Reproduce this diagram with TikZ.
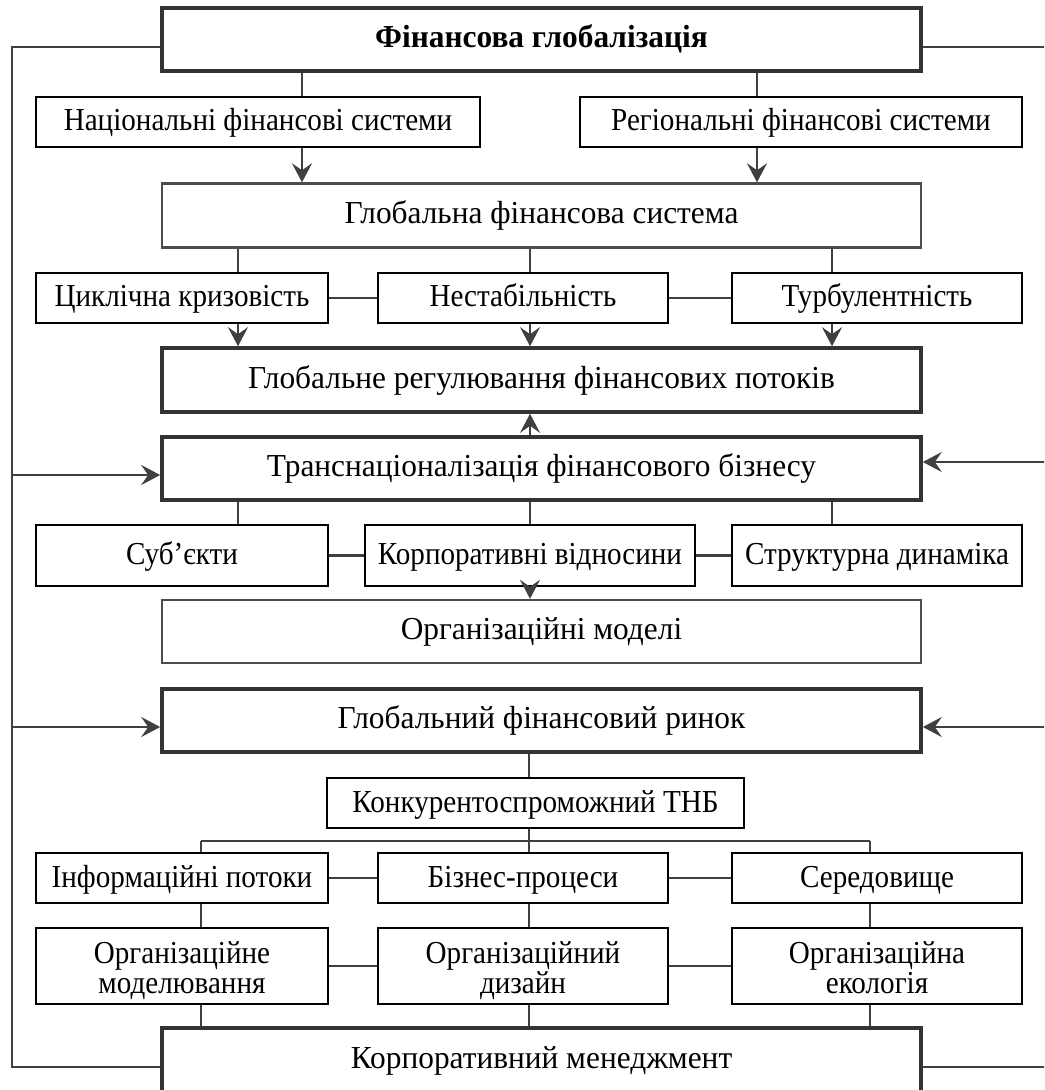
\documentclass[tikz,border=0pt]{standalone}
\usepackage{fontspec}
\setmainfont{Liberation Serif}[FakeStretch=0.98]
\newfontfamily\narrowfont{Liberation Serif}[FakeStretch=0.91]
\usetikzlibrary{arrows.meta}
\newcommand\tallstrut{\rule{0pt}{16pt}}
\newcommand\lowstrut{\rule[-4pt]{0pt}{4pt}}
\begin{document}
\begin{tikzpicture}[x=0.5pt,y=-0.5pt,font=\fontsize{16}{15}\selectfont]
  \tikzstyle{box}=[draw,inner sep=0pt,align=center]
  \tikzstyle{narrow}=[font=\narrowfont\fontsize{16}{15}\selectfont]
  \tikzstyle{bigbox}=[box,text height=12pt,text depth=4pt,line width=1.8pt,draw=black!80,minimum width=379.5pt,minimum height=31.5pt]
  \tikzstyle{plainbox}=[box,text height=12pt,text depth=4pt,line width=1.2pt,draw=black!70,minimum width=379.5pt,minimum height=32pt]
  \tikzstyle{smallbox}=[box,text height=13pt,text depth=4pt,narrow,line width=1.4pt,draw=black,minimum width=146pt,minimum height=25pt]
  \tikzstyle{twobox}=[box,narrow,line width=1.4pt,draw=black,minimum width=146pt,minimum height=38pt]
  \tikzstyle{conn}=[line width=1.15pt,draw=black!75]
  \tikzstyle{arr}=[conn,-{Stealth[length=9.5pt,width=10pt,inset=3.5pt]}]
  \path[use as bounding box,clip] (0,0) rectangle (1044,1090);
  % columns of the connectors
  \coordinate (cn) at (302,0);
  \coordinate (cr) at (757,0);
  \coordinate (ca) at (238,0);
  \coordinate (cb) at (530,0);
  \coordinate (cc) at (832,0);
  \coordinate (ka) at (201,0);
  \coordinate (kb) at (529,0);
  \coordinate (kc) at (870,0);
  % boxes
  \node[bigbox] (fg) at (541.5,39.5) {\bfseries Фінансова глобалізація};
  \node[smallbox,minimum width=222pt] (nat) at (258,122) {Національні фінансові системи};
  \node[smallbox,minimum width=221pt] (reg) at (801,122) {Регіональні фінансові системи};
  \node[plainbox] (gfs) at (541.5,215.5) {Глобальна фінансова система};
  \node[smallbox] (cyc) at (182,298) {Циклічна кризовість};
  \node[smallbox,minimum width=145pt] (nst) at (523,298) {Нестабільність};
  \node[smallbox,minimum width=145pt] (trb) at (877,298) {Турбулентність};
  \node[bigbox,minimum height=32pt] (gr) at (541.5,380) {Глобальне регулювання фінансових потоків};
  \node[bigbox] (tnb) at (541.5,468.5) {Транснаціоналізація фінансового бізнесу};
  \node[smallbox,minimum height=30.5pt] (sub) at (182,555.5) {Суб’єкти};
  \node[smallbox,minimum height=30.5pt,minimum width=165pt] (kv) at (530,555.5) {Корпоративні відносини};
  \node[smallbox,minimum height=30.5pt,minimum width=145pt] (sd) at (877,555.5) {Структурна динаміка};
  \node[plainbox,minimum height=31.5pt] (om) at (541.5,631.5) {Організаційні моделі};
  \node[bigbox] (gfr) at (541.5,720.5) {Глобальний фінансовий ринок};
  \node[smallbox,minimum width=208.5pt] (ktnb) at (535.5,803) {Конкурентоспроможний ТНБ};
  \node[smallbox] (ip) at (182,878) {Інформаційні потоки};
  \node[smallbox,minimum width=145pt] (bp) at (523,878) {Бізнес-процеси};
  \node[smallbox,minimum width=145pt] (sr) at (877,878) {Середовище};
  \node[twobox] (omod) at (182,966) {\tallstrut Організаційне\\моделювання\lowstrut};
  \node[twobox,minimum width=145pt] (od) at (523,966) {\tallstrut Організаційний\\дизайн\lowstrut};
  \node[twobox,minimum width=145pt] (oe) at (877,966) {\tallstrut Організаційна\\екологія\lowstrut};
  \node[bigbox,minimum height=32pt] (km) at (541.5,1060) {Корпоративний менеджмент};
  % top part
  \draw[conn] (fg.south -| cn) -- (nat.north -| cn);
  \draw[conn] (fg.south -| cr) -- (reg.north -| cr);
  \draw[arr] (nat.south -| cn) -- (gfs.north -| cn);
  \draw[arr] (reg.south -| cr) -- (gfs.north -| cr);
  \foreach \c in {ca,cb,cc}
    \draw[conn] (gfs.south -| \c) -- (cyc.north -| \c);
  \draw[conn] (cyc) -- (nst);
  \draw[conn] (nst) -- (trb);
  \foreach \c in {ca,cb,cc}
    \draw[arr] (cyc.south -| \c) -- (gr.north -| \c);
  \draw[arr] (tnb.north -| cb) -- (gr.south -| cb);
  % transnational business
  \foreach \c in {ca,cb,cc}
    \draw[conn] (tnb.south -| \c) -- (sub.north -| \c);
  \draw[conn] (sub) -- (kv);
  \draw[conn] (kv) -- (sd);
  \draw[arr] (kv.south -| cb) -- (om.north -| cb);
  % market and management
  \coordinate (bus) at (0,841);
  \draw[conn] (gfr.south -| kb) -- (ktnb.north -| kb);
  \draw[conn] (ktnb.south -| kb) -- (bus -| kb);
  \draw[conn] (bus -| ka) -- (bus -| kc);
  \foreach \c in {ka,kb,kc} {
    \draw[conn] (bus -| \c) -- (ip.north -| \c);
    \draw[conn] (ip.south -| \c) -- (omod.north -| \c);
    \draw[conn] (omod.south -| \c) -- (km.north -| \c);
  }
  \draw[conn] (ip) -- (bp);
  \draw[conn] (bp) -- (sr);
  \draw[conn] (omod) -- (od);
  \draw[conn] (od) -- (oe);
  % feedback lines
  \coordinate (ltop) at (12,47);
  \coordinate (lbot) at (12,1067);
  \coordinate (la) at (12,475);
  \coordinate (lb) at (12,727);
  \coordinate (rtop) at (1050,47);
  \coordinate (ra) at (1050,462);
  \coordinate (rb) at (1050,727);
  \coordinate (rbot) at (1050,1067);
  \draw[conn] (fg.west |- ltop) -- (ltop) -- (lbot) -- (km.west |- lbot);
  \draw[arr] (la) -- (tnb.west |- la);
  \draw[arr] (lb) -- (gfr.west |- lb);
  \draw[conn] (fg.east |- rtop) -- (rtop);
  \draw[arr] (ra) -- (tnb.east |- ra);
  \draw[arr] (rb) -- (gfr.east |- rb);
  \draw[conn] (km.east |- rbot) -- (rbot);
\end{tikzpicture}
\end{document}
